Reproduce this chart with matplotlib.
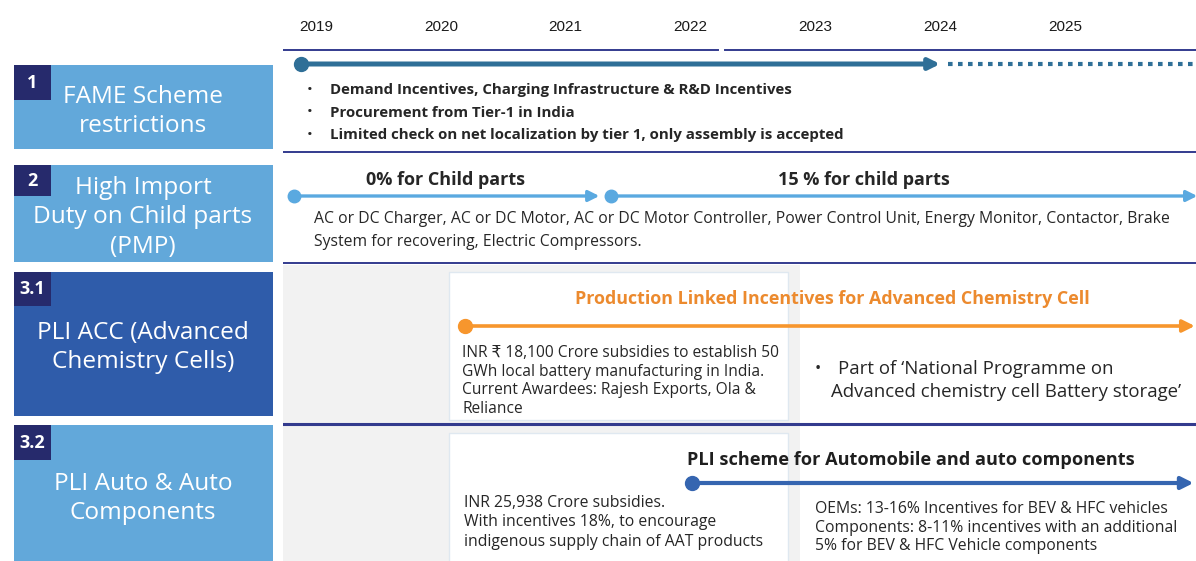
import matplotlib.pyplot as plt
from matplotlib.patches import Rectangle

plt.rcParams['font.family'] = ['Open Sans', 'DejaVu Sans']

# --- Daten ---------------------------------------------------------------
YEARS = [2019, 2020, 2021, 2022, 2023, 2024, 2025]

ROW_IDS = ["1", "2", "3.1", "3.2"]
ROW_TITLES = [
    ["FAME Scheme", "restrictions"],
    ["High Import", "Duty on Child parts", "(PMP)"],
    ["PLI ACC (Advanced", "Chemistry Cells)"],
    ["PLI Auto & Auto", "Components"],
]

FAME_START, FAME_END = 2018.88, 2024.0
FAME_POINTS = [
    "Demand Incentives, Charging Infrastructure & R&D Incentives",
    "Procurement from Tier-1 in India",
    "Limited check on net localization by tier 1, only assembly is accepted",
]

DUTY_PHASES = ["0% for Child parts", "15 % for child parts"]
DUTY_STARTS = [2018.82, 2021.36]
DUTY_ENDS = [2021.27, 2026.06]
DUTY_PARTS = [
    "AC or DC Charger, AC or DC Motor, AC or DC Motor Controller, Power Control Unit, "
    "Energy Monitor, Contactor, Brake",
    "System for recovering, Electric Compressors.",
]

ACC_TITLE = "Production Linked Incentives for Advanced Chemistry Cell"
ACC_START, ACC_END = 2020.19, 2026.04
ACC_NOTE = [
    "INR \u20b9 18,100 Crore subsidies to establish 50",
    "GWh local battery manufacturing in India.",
    "Current Awardees: Rajesh Exports, Ola &",
    "Reliance",
]
ACC_POINT = ["Part of \u2018National Programme on",
             "Advanced chemistry cell Battery storage\u2019"]

AUTO_TITLE = "PLI scheme for Automobile and auto components"
AUTO_START, AUTO_END = 2022.01, 2026.03
AUTO_NOTE = [
    "INR 25,938 Crore subsidies.",
    "With incentives 18%, to encourage",
    "indigenous supply chain of AAT products",
]
AUTO_POINT = [
    "OEMs: 13-16% Incentives for BEV & HFC vehicles",
    "Components: 8-11% incentives with an additional",
    "5% for BEV & HFC Vehicle components",
]

# --- Layout / Farben ------------------------------------------------------
W, H = 1196, 561
LEFT_W = 283
YEAR_PX = 124.83            # Pixel pro Jahr
X0 = 316                    # Pixel-Position von 2019

ROW_SPANS = [(65, 149), (165, 262), (272, 416), (425, 561)]
BADGE_H = [35, 31, 34, 35]
TITLE_TOP = [96.5, 187.5, 332.5, 483.5]   # y der ersten Titelzeile
TITLE_DY = 29.5
ROW_COLORS = ["#62a8da", "#62a8da", "#2f5caa", "#62a8da"]
BADGE_COLOR = "#262a6c"
LINE_COLOR = "#333b8e"
TEXT = "#262626"


def yr(px):
    """Pixel -> Jahres-Koordinate der Zeitachse."""
    return 2019 + (px - X0) / YEAR_PX


fig = plt.figure(figsize=(W / 100, H / 100), dpi=100)

# linke Spalte: Kategorien
axl = fig.add_axes([0, 0, LEFT_W / W, 1])
axl.set_xlim(0, LEFT_W)
axl.set_ylim(H, 0)
axl.axis("off")

for rid, lines, (y0, y1), bh, ty, col in zip(ROW_IDS, ROW_TITLES, ROW_SPANS,
                                              BADGE_H, TITLE_TOP, ROW_COLORS):
    axl.add_patch(Rectangle((14, y0), 259, y1 - y0, color=col, lw=0))
    axl.add_patch(Rectangle((14, y0), 37, bh, color=BADGE_COLOR, lw=0, zorder=2))
    axl.text(32.5, y0 + bh / 2, rid, color="white", fontsize=13,
             fontweight="bold", ha="center", va="center", zorder=3)
    for i, t in enumerate(lines):
        axl.text(143, ty + i * TITLE_DY, t, color="white", fontsize=17.6,
                 ha="center", va="center")

# rechte Seite: Zeitachse
ax = fig.add_axes([LEFT_W / W, 0, (W - LEFT_W) / W, 1])
ax.set_xlim(yr(LEFT_W), yr(W))
ax.set_ylim(H, 0)
ax.axis("off")

# Hintergrund Reihe 3.x
ax.add_patch(Rectangle((yr(LEFT_W), 265), yr(800) - yr(LEFT_W), H - 265,
                       color="#f2f2f2", lw=0, zorder=0))
for y0, y1 in [(272, 420), (433, H + 5)]:
    ax.add_patch(Rectangle((yr(449), y0), yr(788) - yr(449), y1 - y0,
                           facecolor="white", edgecolor="#dfe8f0", lw=1, zorder=0.5))

# Jahreszahlen
for y in YEARS:
    ax.text(y, 27, str(y), fontsize=11, color="#1a1a1a", ha="center",
            va="center", family=["Liberation Sans", "DejaVu Sans"])

# Trennlinien
ax.plot([yr(LEFT_W), yr(718)], [50, 50], color=LINE_COLOR, lw=1.4)
ax.plot([yr(725), yr(W)], [50, 50], color=LINE_COLOR, lw=1.4)
for y in [152, 263]:
    ax.plot([yr(LEFT_W), yr(W)], [y, y], color=LINE_COLOR, lw=1.4)
ax.plot([yr(LEFT_W), yr(W)], [424, 424], color=LINE_COLOR, lw=2.2, zorder=1)


def arrow(x0, x1, y, color, lw, ms, head):
    ax.annotate("", xy=(x1, y), xytext=(x0, y), annotation_clip=False,
                arrowprops=dict(arrowstyle="-|>", color=color, lw=lw,
                                mutation_scale=head, shrinkA=0, shrinkB=0),
                zorder=3)
    ax.plot([x0], [y], "o", color=color, ms=ms, zorder=4)


# 1: FAME
c1 = "#2f6f97"
arrow(FAME_START, FAME_END, 64, c1, 3.6, 10, 16)
ax.plot([FAME_END + 0.06, yr(W)], [64, 64], color=c1, lw=3,
        dashes=(1.1, 1.3), dash_capstyle="butt")
for i, t in enumerate(FAME_POINTS):
    y = 90 + i * 22.5
    ax.text(yr(307), y, "\u2022", fontsize=11, color=TEXT, ha="left", va="center")
    ax.text(yr(330), y, t, fontsize=10.8, fontweight="bold", color=TEXT,
            ha="left", va="center")

# 2: Importzoll
c2 = "#5aa9e0"
for label, s, e, lx in zip(DUTY_PHASES, DUTY_STARTS, DUTY_ENDS, [445, 864]):
    arrow(s, e, 196, c2, 2.4, 9, 16)
    ax.text(yr(lx), 180, label, fontsize=13, fontweight="bold", color=TEXT,
            ha="center", va="center")
for i, t in enumerate(DUTY_PARTS):
    ax.text(yr(314), 219 + i * 23, t, fontsize=11.3, color=TEXT,
            ha="left", va="center")

# 3.1: PLI ACC
c3 = "#f7962d"
arrow(ACC_START, ACC_END, 326, c3, 2.6, 10, 18)
ax.text(yr(832), 299, ACC_TITLE, fontsize=12.9, fontweight="bold",
        color="#ec8a2e", ha="center", va="center")
for i, t in enumerate(ACC_NOTE):
    ax.text(yr(462), 353 + i * 18.7, t, fontsize=11.2, color=TEXT, ha="left",
            va="center")
ax.text(yr(815), 369, "\u2022", fontsize=12, color=TEXT, ha="left", va="center")
for i, t in enumerate(ACC_POINT):
    ax.text(yr(838 - 7 * i), 369 + i * 23, t, fontsize=13.4, color=TEXT,
            ha="left", va="center")

# 3.2: PLI Auto
c4 = "#3565b0"
arrow(AUTO_START, AUTO_END, 483, c4, 3.0, 10, 18)
ax.text(yr(911), 460, AUTO_TITLE, fontsize=13.1, fontweight="bold",
        color="#1f1f1f", ha="center", va="center")
for i, t in enumerate(AUTO_NOTE):
    ax.text(yr(464), 503 + i * 19.5, t, fontsize=11.3, color=TEXT, ha="left",
            va="center")
for i, t in enumerate(AUTO_POINT):
    ax.text(yr(815), 509 + i * 18.5, t, fontsize=11.3, color=TEXT, ha="left",
            va="center")

fig.savefig("out.png", dpi=100)
